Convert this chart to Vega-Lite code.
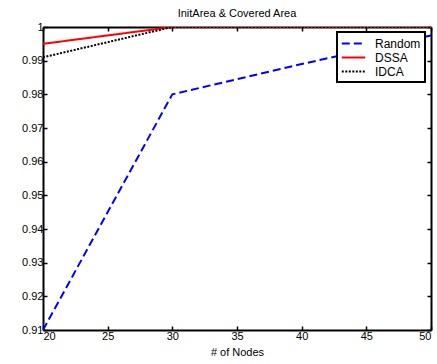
{
  "$schema": "https://vega.github.io/schema/vega-lite/v6.json",
  "width": 388,
  "height": 303,
  "autosize": "none",
  "padding": {"left": 43, "top": 27, "right": 6, "bottom": 34},
  "background": "white",
  "title": {"text": "InitArea & Covered Area", "fontSize": 11, "fontWeight": "normal", "font": "Liberation Sans", "color": "black", "offset": 2},
  "config": {
    "view": {"stroke": null},
    "axis": {
      "domainColor": "black", "domainWidth": 2, "tickColor": "black", "tickWidth": 1.5, "tickSize": -4,
      "labelFont": "Liberation Sans", "labelFontSize": 11, "labelColor": "black", "grid": false,
      "titleFont": "Liberation Sans", "titleFontSize": 11, "titleFontWeight": "normal", "titleColor": "black"
    },
    "legend": {"strokeWidth": 2}
  },
  "data": {"values": [
    {"nodes": 20, "area": 0.91, "method": "Random"},
    {"nodes": 30, "area": 0.98, "method": "Random"},
    {"nodes": 40, "area": 0.989, "method": "Random"},
    {"nodes": 50, "area": 0.9975, "method": "Random"},
    {"nodes": 20, "area": 0.995, "method": "DSSA"},
    {"nodes": 30, "area": 1.0, "method": "DSSA"},
    {"nodes": 40, "area": 1.0, "method": "DSSA"},
    {"nodes": 50, "area": 1.0, "method": "DSSA"},
    {"nodes": 20, "area": 0.991, "method": "IDCA"},
    {"nodes": 30, "area": 1.0, "method": "IDCA"},
    {"nodes": 40, "area": 1.0, "method": "IDCA"},
    {"nodes": 50, "area": 1.0, "method": "IDCA"}
  ]},
  "resolve": {"axis": {"x": "independent", "y": "independent"}},
  "layer": [
    {
      "mark": {"type": "line", "strokeWidth": 2, "clip": true},
      "encoding": {
        "x": {"field": "nodes", "type": "quantitative", "scale": {"domain": [20, 50], "nice": false, "zero": false},
              "axis": {"orient": "bottom", "values": [20, 25, 30, 35, 40, 45, 50], "title": "# of Nodes", "labelPadding": 4, "titlePadding": 5}},
        "y": {"field": "area", "type": "quantitative", "scale": {"domain": [0.91, 1], "nice": false, "zero": false},
              "axis": {"orient": "left", "values": [0.91, 0.92, 0.93, 0.94, 0.95, 0.96, 0.97, 0.98, 0.99, 1], "format": ".2~f", "title": null, "labelPadding": 4}},
        "color": {"field": "method", "type": "nominal",
                  "scale": {"domain": ["Random", "DSSA", "IDCA"], "range": ["#0000ff", "#ff0000", "#000000"]},
                  "legend": {"title": null, "orient": "none", "legendX": 294, "legendY": 5, "symbolType": "M-1.8,0H1.8", "symbolSize": 169, "symbolStrokeWidth": 2,
                             "symbolOffset": 5,
                             "labelFont": "Liberation Sans", "labelFontSize": 12, "labelColor": "black", "rowPadding": 0, "labelOffset": 14,
                             "fillColor": "white", "strokeColor": "black", "padding": 4}},
        "strokeDash": {"field": "method", "type": "nominal",
                       "scale": {"domain": ["Random", "DSSA", "IDCA"], "range": [[8, 4], [1, 0], [2, 1.5]]},
                       "legend": null},
        "order": {"field": "method", "sort": "descending"}
      }
    },
    {
      "mark": {"type": "line", "opacity": 0},
      "encoding": {
        "x": {"field": "nodes", "type": "quantitative", "axis": {"orient": "top", "values": [20, 25, 30, 35, 40, 45, 50], "labels": false, "title": null}},
        "y": {"field": "area", "type": "quantitative", "axis": {"orient": "right", "values": [0.91, 0.92, 0.93, 0.94, 0.95, 0.96, 0.97, 0.98, 0.99, 1], "labels": false, "title": null}}
      }
    }
  ]
}
